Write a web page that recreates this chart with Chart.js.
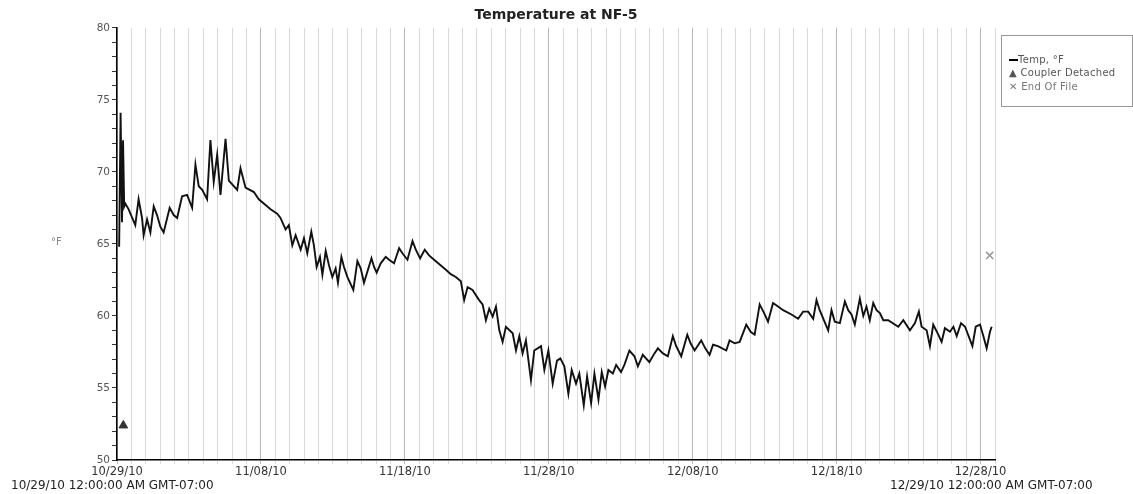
<!DOCTYPE html>
<html lang="en">
<head>
    <meta charset="UTF-8">
    <title>Temperature at NF-5</title>
    <style>
        body {
            margin: 0;
            background-color: white;
            font-family: "DejaVu Sans", sans-serif;
        }
        .wrap {
            position: relative;
            width: 1133px;
            height: 494px;
        }
        .legend-box {
            position: absolute;
            left: 1001px;
            top: 35px;
            width: 132px;
            height: 72px;
            border: 1px solid #999;
            box-sizing: border-box;
            font-size: 10px;
            letter-spacing: 0.3px;
            color: #555;
        }
        .legend-item {
            position: absolute;
            left: 7px;
            white-space: nowrap;
        }
        .corner {
            position: absolute;
            top: 478px;
            font-size: 12px;
            color: #222;
            white-space: nowrap;
        }
        .unit {
            position: absolute;
            left: 51px;
            top: 236px;
            font-size: 10px;
            color: #888;
        }
    </style>
</head>
<body>
    <div class="wrap">
        <canvas id="tempChart" width="1133" height="494"></canvas>
        <div class="unit">°F</div>
        <div class="legend-box">
            <div class="legend-item" style="top:18px"><span style="display:inline-block;width:9px;border-top:2px solid #000;vertical-align:middle"></span>Temp, °F</div>
            <div class="legend-item" style="top:31px">▲ Coupler Detached</div>
            <div class="legend-item" style="top:45px;color:#777">✕ End Of File</div>
        </div>
        <div class="corner" style="left:11px">10/29/10 12:00:00 AM GMT-07:00</div>
        <div class="corner" style="left:890px">12/29/10 12:00:00 AM GMT-07:00</div>
    </div>

    <script src="https://cdn.jsdelivr.net/npm/chart.js"></script>
    <script>
        // days since 10/29/10 00:00
        const dayOffsets = [
            0.15, 0.25, 0.35, 0.42, 0.50, 0.58, 0.81, 1.27, 1.50, 1.74, 1.85, 2.09, 2.32, 2.55, 2.78, 3.01, 3.24, 3.66, 3.94, 4.18,
            4.52, 4.87, 5.22, 5.45, 5.68, 5.92, 6.26, 6.49, 6.72, 6.96, 7.19, 7.54, 7.77, 8.35, 8.58, 8.93, 9.51, 9.85, 10.67, 11.13,
            11.36, 11.71, 11.94, 12.18, 12.41, 12.76, 12.99, 13.22, 13.50, 13.68, 13.87, 14.10, 14.27, 14.50, 14.73, 14.96, 15.19, 15.35, 15.59, 15.77,
            16.01, 16.42, 16.70, 16.93, 17.16, 17.68, 17.86, 18.04, 18.32, 18.67, 18.90, 19.25, 19.60, 19.83, 20.18, 20.53, 20.76, 21.06, 21.38, 21.68,
            22.03, 22.50, 22.85, 23.19, 23.54, 23.89, 24.12, 24.36, 24.70, 25.16, 25.40, 25.63, 25.86, 26.10, 26.33, 26.56, 26.79, 27.02, 27.49, 27.72,
            27.95, 28.18, 28.41, 28.76, 28.99, 29.46, 29.69, 29.97, 30.27, 30.57, 30.80, 31.08, 31.36, 31.59, 31.89, 32.12, 32.43, 32.66, 32.94, 33.17,
            33.45, 33.68, 33.91, 34.14, 34.45, 34.68, 35.02, 35.25, 35.60, 35.95, 36.19, 36.53, 36.99, 37.34, 37.58, 37.93, 38.27, 38.62, 38.85, 39.20,
            39.62, 39.85, 40.13, 40.59, 40.87, 41.17, 41.41, 41.75, 42.33, 42.56, 42.91, 43.26, 43.72, 44.02, 44.30, 44.65, 44.96, 45.23, 45.58, 45.93,
            46.28, 46.86, 47.32, 47.67, 48.02, 48.37, 48.60, 48.82, 49.41, 49.64, 49.87, 50.22, 50.57, 50.80, 51.03, 51.26, 51.61, 51.85, 52.07, 52.30,
            52.54, 52.77, 53.00, 53.24, 53.58, 54.28, 54.63, 55.09, 55.44, 55.71, 55.90, 56.25, 56.48, 56.71, 57.06, 57.29, 57.52, 57.87, 58.11, 58.34,
            58.64, 58.92, 59.43, 59.66, 59.96, 60.19, 60.42, 60.65, 60.77
        ];
        const tempF = [
            64.8, 74.1, 66.5, 72.2, 67.6, 67.8, 67.4, 66.3, 68.1, 66.8, 65.6, 66.7, 65.8, 67.6, 67.0, 66.2, 65.8, 67.5, 67.0, 66.8,
            68.3, 68.4, 67.5, 70.5, 69.0, 68.75, 68.1, 72.2, 69.3, 71.2, 68.4, 72.3, 69.4, 68.75, 70.25, 68.9, 68.6, 68.1, 67.4, 67.1,
            66.8, 66.0, 66.3, 64.9, 65.6, 64.6, 65.4, 64.35, 65.85, 64.9, 63.4, 64.1, 62.85, 64.5, 63.5, 62.7, 63.3, 62.3, 64.1, 63.4,
            62.7, 61.8, 63.8, 63.3, 62.3, 64.0, 63.4, 63.0, 63.65, 64.1, 63.9, 63.65, 64.7, 64.35, 63.9, 65.2, 64.6, 64.0, 64.6, 64.2,
            63.9, 63.5, 63.2, 62.9, 62.7, 62.4, 61.1, 62.0, 61.8, 61.1, 60.8, 59.7, 60.5, 59.95, 60.65, 59.0, 58.2, 59.25, 58.8, 57.6,
            58.6, 57.4, 58.3, 55.55, 57.6, 57.9, 56.25, 57.6, 55.3, 56.9, 57.05, 56.5, 54.6, 56.25, 55.3, 56.0, 53.8, 55.8, 53.95, 56.0,
            54.2, 56.1, 55.1, 56.25, 56.0, 56.6, 56.1, 56.6, 57.6, 57.2, 56.5, 57.3, 56.8, 57.4, 57.75, 57.4, 57.2, 58.6, 57.9, 57.2,
            58.7, 58.1, 57.6, 58.3, 57.75, 57.3, 58.0, 57.9, 57.6, 58.3, 58.1, 58.2, 59.4, 58.9, 58.7, 60.8, 60.2, 59.6, 60.9, 60.65,
            60.4, 60.1, 59.8, 60.3, 60.3, 59.8, 61.1, 60.4, 59.0, 60.4, 59.6, 59.5, 61.0, 60.4, 60.1, 59.4, 61.2, 60.0, 60.65, 59.7,
            60.9, 60.4, 60.2, 59.7, 59.7, 59.25, 59.7, 59.0, 59.5, 60.3, 59.25, 59.0, 57.9, 59.4, 58.7, 58.2, 59.15, 58.9, 59.25, 58.6,
            59.5, 59.25, 57.9, 59.25, 59.4, 58.6, 57.75, 58.9, 59.25
        ];
        const couplerDetached = [{ x: 0.44, y: 52.4 }];
        const endOfFile = [{ x: 60.63, y: 64.2 }];
        const dateTicks = ['10/29/10', '11/08/10', '11/18/10', '11/28/10', '12/08/10', '12/18/10', '12/28/10'];

        const tempPoints = dayOffsets.map((d, i) => ({ x: d, y: tempF[i] }));

        const ctx = document.getElementById('tempChart').getContext('2d');
        new Chart(ctx, {
            type: 'line',
            data: {
                datasets: [
                    {
                        label: 'Coupler Detached',
                        data: couplerDetached,
                        showLine: false,
                        pointStyle: 'triangle',
                        pointRadius: 5,
                        backgroundColor: '#333',
                        borderColor: '#333'
                    },
                    {
                        label: 'End Of File',
                        data: endOfFile,
                        showLine: false,
                        pointStyle: 'crossRot',
                        pointRadius: 5,
                        borderWidth: 1.5,
                        borderColor: '#999'
                    },
                    {
                        label: 'Temp, °F',
                        data: tempPoints,
                        borderColor: '#111',
                        borderWidth: 1.9,
                        pointRadius: 0,
                        tension: 0
                    }
                ]
            },
            options: {
                responsive: false,
                animation: false,
                layout: { padding: { left: 0, right: 138, top: 0, bottom: 0 } },
                plugins: {
                    legend: { display: false },
                    tooltip: { enabled: false },
                    title: {
                        display: true,
                        fullSize: false,
                        text: 'Temperature at NF-5',
                        color: '#222',
                        font: { family: 'DejaVu Sans', size: 14, weight: 'bold' },
                        padding: { top: 7, bottom: 4 }
                    }
                },
                scales: {
                    x: {
                        type: 'linear',
                        min: 0,
                        max: 61,
                        afterFit: (scale) => { scale.height = 34; },
                        border: { display: true, color: '#000', width: 1.5 },
                        grid: {
                            drawOnChartArea: true,
                            tickLength: 4,
                            color: (c) => (c.tick && c.tick.value % 10 === 0) ? '#b8b8b8' : '#dadada'
                        },
                        ticks: {
                            stepSize: 1,
                            autoSkip: false,
                            maxRotation: 0,
                            padding: 1,
                            color: '#333',
                            font: { family: 'DejaVu Sans', size: 11.5 },
                            callback: (v) => v % 10 === 0 ? dateTicks[v / 10] : ''
                        }
                    },
                    y: {
                        min: 50,
                        max: 80,
                        afterFit: (scale) => { scale.width = 117; },
                        border: { display: true, color: '#000', width: 1.5 },
                        grid: {
                            drawOnChartArea: false,
                            tickLength: 5,
                            color: '#333'
                        },
                        ticks: {
                            stepSize: 1,
                            autoSkip: false,
                            padding: 2,
                            color: '#555',
                            font: { family: 'DejaVu Sans', size: 10.5 },
                            callback: (v) => v % 5 === 0 ? v : ''
                        }
                    }
                }
            }
        });
    </script>
</body>
</html>
